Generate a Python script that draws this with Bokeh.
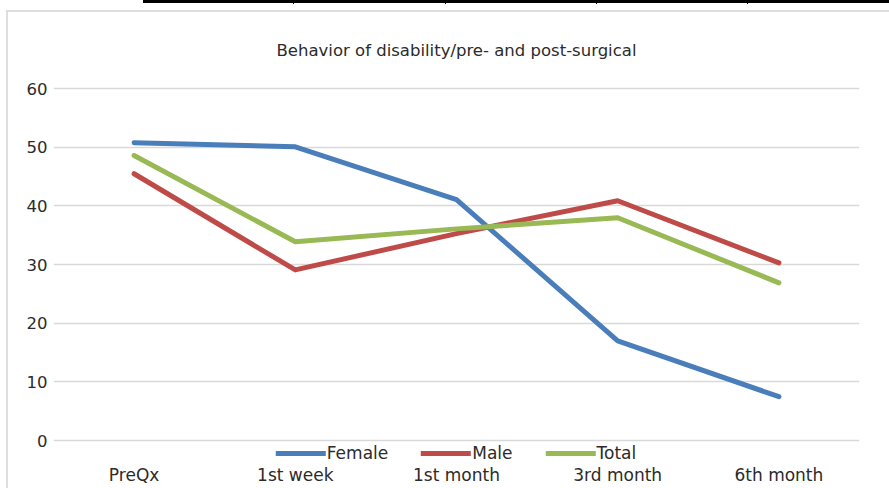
import re
from bokeh.plotting import figure
from bokeh.models import FixedTicker, Legend, LegendItem, Div
from bokeh.layouts import column
from bokeh.embed import file_html
from bokeh.resources import INLINE

categories = ["PreQx", "1st week", "1st month", "3rd month", "6th month"]
female = [50.8, 50.1, 41.1, 17.0, 7.5]
male = [45.5, 29.1, 35.3, 40.9, 30.3]
total = [48.6, 33.9, 36.1, 38.0, 26.9]
y_ticks = [0, 10, 20, 30, 40, 50, 60]

series = [("Female", female, "#4a7ebb"), ("Male", male, "#be4b48"), ("Total", total, "#98b954")]

FONT = "DejaVu Sans"
TXT = "#2b2b2b"

p = figure(x_range=categories, y_range=(-3.9, 63.1), width=889, height=476,
           output_backend="svg", toolbar_location=None,
           title="Behavior of disability/pre- and post-surgical",
           min_border_left=53, min_border_right=30, min_border_top=58, min_border_bottom=25)

p.title.align = "center"
p.title.text_font = FONT
p.title.text_font_size = "16.5px"
p.title.text_font_style = "normal"
p.title.text_color = TXT
p.title.standoff = 21

p.outline_line_color = None
p.background_fill_color = "white"
p.border_fill_color = "white"

p.yaxis.ticker = FixedTicker(ticks=y_ticks)
p.yaxis.axis_line_color = None
p.yaxis.major_tick_line_color = None
p.yaxis.minor_tick_line_color = None
p.yaxis.major_label_text_font = FONT
p.yaxis.major_label_text_font_size = "16.5px"
p.yaxis.major_label_text_color = TXT
p.yaxis.major_label_standoff = 0

p.xaxis.axis_line_color = None
p.xaxis.major_tick_line_color = None
p.xaxis.major_tick_out = 0
p.xaxis.major_label_text_font = FONT
p.xaxis.major_label_text_font_size = "17px"
p.xaxis.major_label_text_color = TXT
p.xaxis.major_label_standoff = 1

p.xgrid.grid_line_color = None
p.ygrid.grid_line_color = "#d9d9d9"
p.ygrid.grid_line_width = 1.5
p.ygrid.ticker = FixedTicker(ticks=y_ticks)

items = []
for name, vals, color in series:
    r = p.line(categories, vals, line_color=color, line_width=5,
               line_cap="round", line_join="round")
    items.append(LegendItem(label=name, renderers=[r]))

legend = Legend(items=items, location="bottom_center", orientation="horizontal",
                glyph_width=50, glyph_height=18, label_standoff=1, spacing=33,
                margin=0, padding=0, border_line_alpha=0, background_fill_alpha=0,
                label_text_font=FONT, label_text_font_size="17px", label_text_color=TXT)
p.add_layout(legend)

deco = (
    "<div style='position:relative;width:889px;height:12px;overflow:visible'>"
    "<div style='position:absolute;left:143px;top:0;width:746px;height:3px;background:#000'></div>"
    "<div style='position:absolute;left:293px;top:0;width:1px;height:4px;background:#000'></div>"
    "<div style='position:absolute;left:445px;top:0;width:1px;height:4px;background:#000'></div>"
    "<div style='position:absolute;left:596px;top:0;width:1px;height:4px;background:#000'></div>"
    "<div style='position:absolute;left:747px;top:0;width:1px;height:4px;background:#000'></div>"
    "<div style='position:absolute;left:6px;top:10px;width:883px;height:2px;background:#dedede'></div>"
    "<div style='position:absolute;left:6px;top:10px;width:2px;height:478px;background:#dedede;z-index:20'></div>"
    "</div>"
)
top = Div(text=deco, width=889, height=12, margin=0,
          styles={"overflow": "visible", "z-index": "20", "position": "relative"})

layout = column(top, p, spacing=0)

html = file_html(layout, INLINE)
html = re.sub(r"<body[^>]*>", "<body style='margin:0;overflow:hidden'>", html, count=1)
open("out.html", "w").write(html)
